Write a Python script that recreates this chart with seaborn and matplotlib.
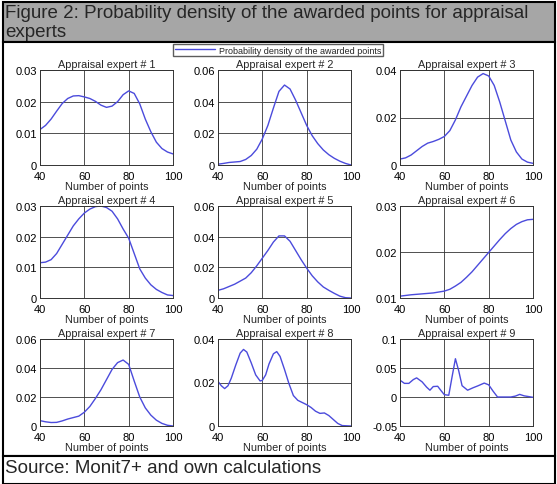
import numpy as np
import pandas as pd
import matplotlib.pyplot as plt
import seaborn as sns
from matplotlib.patches import Rectangle

# points (x) and density (y)
pts_1 = [40, 42.5, 45, 47.5, 50, 52.5, 55, 57.5, 60, 62.5, 65, 67.5, 70, 72.5, 75, 77.5, 80,
         82.5, 85, 87.5, 90, 92.5, 95, 97.5, 100]
dens_1 = [0.0112, 0.0125, 0.0145, 0.017, 0.0194, 0.021, 0.0218, 0.0219, 0.0215, 0.021, 0.0201,
          0.0189, 0.0182, 0.0186, 0.0200, 0.0222, 0.0234, 0.0226, 0.0193, 0.0145, 0.0105, 0.0072,
          0.0052, 0.0041, 0.0035]

pts_2 = [40, 42.5, 45, 47.5, 50, 52.5, 55, 57.5, 60, 62.5, 65, 67.5, 70, 72.5, 75, 77.5, 80,
         82.5, 85, 87.5, 90, 92.5, 95, 97.5, 100]
dens_2 = [0.0005, 0.001, 0.0016, 0.0019, 0.0022, 0.0035, 0.006, 0.010, 0.0165, 0.025, 0.036,
          0.0465, 0.0505, 0.048, 0.041, 0.033, 0.025, 0.0185, 0.0135, 0.0095, 0.0065, 0.0042,
          0.0024, 0.001, 0.0]

pts_3 = [40, 42.5, 45, 47.5, 50, 52.5, 55, 57.5, 60, 62.5, 65, 67.5, 70, 72.5, 75, 77.5, 80,
         82.5, 85, 87.5, 90, 92.5, 95, 97.5, 100]
dens_3 = [0.0025, 0.003, 0.0042, 0.006, 0.0078, 0.0092, 0.0099, 0.0108, 0.012, 0.0145, 0.019,
          0.0245, 0.029, 0.0335, 0.037, 0.0385, 0.0375, 0.0335, 0.0265, 0.0185, 0.0105, 0.0055,
          0.0025, 0.0012, 0.0007]

pts_4 = [40, 42.5, 45, 47.5, 50, 52.5, 55, 57.5, 60, 62.5, 65, 67.5, 70, 72.5, 75, 77.5, 80,
         82.5, 85, 87.5, 90, 92.5, 95, 97.5, 100]
dens_4 = [0.0115, 0.0117, 0.0125, 0.0145, 0.0175, 0.0205, 0.0235, 0.0258, 0.0277, 0.029, 0.0298,
          0.030, 0.0295, 0.0283, 0.0258, 0.0225, 0.0195, 0.0145, 0.0095, 0.0065, 0.0043, 0.0028,
          0.0018, 0.001, 0.0008]

pts_5 = [40, 42.5, 45, 47.5, 50, 52.5, 55, 57.5, 60, 62.5, 65, 67.5, 70, 72.5, 75, 77.5, 80,
         82.5, 85, 87.5, 90, 92.5, 95, 97.5, 100]
dens_5 = [0.005, 0.006, 0.0075, 0.009, 0.011, 0.013, 0.0165, 0.021, 0.026, 0.031, 0.0365,
          0.0405, 0.0405, 0.037, 0.031, 0.025, 0.0195, 0.0145, 0.0105, 0.0072, 0.005, 0.003,
          0.0012, 0.0002, 0.0]

pts_6 = [40, 45, 50, 55, 60, 62.5, 65, 67.5, 70, 72.5, 75, 77.5, 80, 82.5, 85, 87.5, 90, 92.5,
         95, 97.5, 100]
dens_6 = [0.0104, 0.0107, 0.0109, 0.0111, 0.0115, 0.0119, 0.0126, 0.0134, 0.0145, 0.0157,
          0.0171, 0.0185, 0.0199, 0.0213, 0.0227, 0.024, 0.0251, 0.026, 0.0266, 0.027, 0.0271]

pts_7 = [40, 42.5, 45, 47.5, 50, 52.5, 55, 57.5, 60, 62.5, 65, 67.5, 70, 72.5, 75, 77.5, 80,
         82.5, 85, 87.5, 90, 92.5, 95, 97.5, 100]
dens_7 = [0.0037, 0.0029, 0.0024, 0.0025, 0.0035, 0.0048, 0.0058, 0.0068, 0.0095, 0.0135, 0.019,
          0.025, 0.032, 0.039, 0.0437, 0.0455, 0.0425, 0.031, 0.020, 0.0125, 0.0075, 0.004,
          0.0018, 0.0005, 0.0]

pts_8 = [40, 41.5, 43, 44.5, 46, 48, 50, 51.5, 53, 55, 57, 59, 60, 61.5, 63, 65, 66.5, 68, 70,
         72, 74, 76, 78, 80, 82, 84, 86, 88, 90, 92, 94, 96, 100]
dens_8 = [0.0205, 0.0185, 0.0172, 0.0185, 0.022, 0.028, 0.0335, 0.0352, 0.034, 0.029, 0.0235,
          0.0207, 0.021, 0.0235, 0.0285, 0.0332, 0.0342, 0.032, 0.026, 0.0195, 0.014, 0.0118,
          0.0108, 0.0098, 0.0085, 0.0068, 0.0058, 0.006, 0.0048, 0.003, 0.0012, 0.0002, 0.0]

pts_9 = [40, 42, 44, 46, 47.5, 50, 52, 53.5, 55, 57, 58.5, 60, 62, 63.5, 65, 66.5, 68, 70.5,
         73, 75, 78, 80, 82, 84, 90, 92, 94, 96, 100]
dens_9 = [0.029, 0.0235, 0.0235, 0.030, 0.033, 0.026, 0.017, 0.0117, 0.018, 0.0185, 0.011,
          0.004, 0.003, 0.035, 0.066, 0.045, 0.0195, 0.0117, 0.016, 0.019, 0.024, 0.021, 0.010,
          0.0, 0.0, 0.0015, 0.0045, 0.002, -0.0005]

y_limits = [(0, 0.03), (0, 0.06), (0, 0.04), (0, 0.03), (0, 0.06), (0.01, 0.03),
            (0, 0.06), (0, 0.04), (-0.05, 0.1)]
y_ticks = [[0, 0.01, 0.02, 0.03], [0, 0.02, 0.04, 0.06], [0, 0.02, 0.04],
           [0, 0.01, 0.02, 0.03], [0, 0.02, 0.04, 0.06], [0.01, 0.02, 0.03],
           [0, 0.02, 0.04, 0.06], [0, 0.02, 0.04], [-0.05, 0, 0.05, 0.1]]
y_labels = [["0", "0.01", "0.02", "0.03"], ["0", "0.02", "0.04", "0.06"], ["0", "0.02", "0.04"],
            ["0", "0.01", "0.02", "0.03"], ["0", "0.02", "0.04", "0.06"], ["0.01", "0.02", "0.03"],
            ["0", "0.02", "0.04", "0.06"], ["0", "0.02", "0.04"], ["-0.05", "0", "0.05", "0.1"]]
x_ticks = [40, 60, 80, 100]

series = [(pts_1, dens_1), (pts_2, dens_2), (pts_3, dens_3), (pts_4, dens_4), (pts_5, dens_5),
          (pts_6, dens_6), (pts_7, dens_7), (pts_8, dens_8), (pts_9, dens_9)]

sns.set_theme(style="white")
plt.rcParams['font.family'] = ['Liberation Sans', 'DejaVu Sans']

W, H = 557, 485
fig = plt.figure(figsize=(W / 100, H / 100), dpi=100)

# frame boxes: header, chart panel, source line (kept behind the axes)
fig.patches.append(Rectangle((3 / W, 1 - 43 / H), 552 / W, 40 / H, transform=fig.transFigure,
                             facecolor="#a6a6a6", edgecolor="black", lw=1.5, zorder=-5))
fig.patches.append(Rectangle((3 / W, 1 - 457 / H), 552 / W, 414 / H, transform=fig.transFigure,
                             facecolor="white", edgecolor="black", lw=1.5, zorder=-5))
fig.patches.append(Rectangle((3 / W, 0), 552 / W, 28 / H, transform=fig.transFigure,
                             facecolor="white", edgecolor="black", lw=1.5, zorder=-5))
fig.text(5 / W, 1 - 23 / H, "Figure 2: Probability density of the awarded points for appraisal\nexperts",
         fontsize=13.5, va="center", ha="left", linespacing=1.15)
fig.text(5 / W, 1 - 469 / H, "Source: Monit7+ and own calculations", fontsize=13.5, va="center")

col_left = [40, 218, 400]
row_top = [71, 207, 340]
row_bottom = [166, 299, 427]
ax_w = 133

blue = "#4b4bdc"
handle = None
for i, (xs, ys) in enumerate(series):
    r, c = divmod(i, 3)
    ax = fig.add_axes([col_left[c] / W, 1 - row_bottom[r] / H, ax_w / W,
                       (row_bottom[r] - row_top[r]) / H])
    df = pd.DataFrame({"points": xs, "density": ys})
    sns.lineplot(data=df, x="points", y="density", ax=ax, color=blue, lw=1.0)
    ax.set_xlim(40, 100)
    ax.set_ylim(*y_limits[i])
    ax.set_xticks(x_ticks)
    ax.set_yticks(y_ticks[i])
    ax.set_yticklabels(y_labels[i])
    ax.grid(True, color="#333333", lw=0.6)
    for s in ax.spines.values():
        s.set_color("#333333")
        s.set_linewidth(0.7)
    ax.tick_params(axis="both", length=0, labelsize=8, colors="black")
    ax.tick_params(axis="y", pad=2)
    ax.tick_params(axis="x", pad=4)
    ax.set_title(f"Appraisal expert # {i + 1}", fontsize=7.8, pad=2)
    ax.set_xlabel("Number of points", fontsize=7.8, labelpad=0.5)
    ax.set_ylabel("")
    if handle is None:
        handle = ax.get_lines()[0]

fig.legend([handle], ["Probability density of the awarded points"], loc="center",
           bbox_to_anchor=(278 / W, 1 - 51 / H), fontsize=6.5, frameon=True, fancybox=False,
           edgecolor="#333333", handlelength=4.5, borderpad=0.15, handletextpad=0.4)

fig.savefig("out.png", dpi=100)
